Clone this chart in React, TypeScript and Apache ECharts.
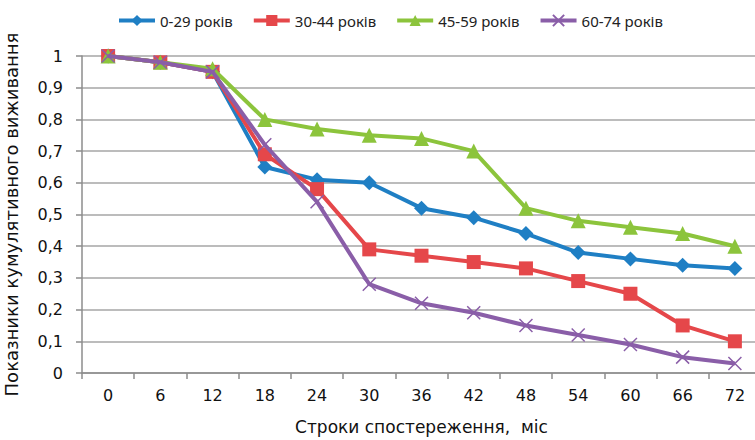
import React, { useEffect, useRef } from "react";
import * as echarts from "echarts";

const categories = ["0", "6", "12", "18", "24", "30", "36", "42", "48", "54", "60", "66", "72"];
const seriesNames = ["0-29 років", "30-44 років", "45-59 років", "60-74 років"];
const age0_29 = [1, 0.98, 0.95, 0.65, 0.61, 0.6, 0.52, 0.49, 0.44, 0.38, 0.36, 0.34, 0.33];
const age30_44 = [1, 0.98, 0.95, 0.69, 0.58, 0.39, 0.37, 0.35, 0.33, 0.29, 0.25, 0.15, 0.1];
const age45_59 = [1, 0.98, 0.96, 0.8, 0.77, 0.75, 0.74, 0.7, 0.52, 0.48, 0.46, 0.44, 0.4];
const age60_74 = [1, 0.98, 0.95, 0.72, 0.54, 0.28, 0.22, 0.19, 0.15, 0.12, 0.09, 0.05, 0.03];
const colors = ["#1f7fc4", "#e5474a", "#8cc43c", "#8a5ea8"];
const xTitle = "Строки спостереження,  міс";
const yTitle = "Показники кумулятивного виживання";

export default function App() {
  const ref = useRef<HTMLDivElement>(null);
  useEffect(() => {
    if (!ref.current) return;
    const chart = echarts.init(ref.current, null, { renderer: "svg" });
    const datas = [age0_29, age30_44, age45_59, age60_74];
    const symbols = ["diamond", "rect", "triangle", "path://M0,0L10,10M10,0L0,10"];
    const sizes = [15, 14, 15, 13];
    chart.setOption({
      animation: false,
      color: colors,
      legend: {
        top: 8,
        left: 112,
        itemWidth: 36,
        itemHeight: 14,
        itemGap: 19,
        lineStyle: { width: 4 },
        textStyle: { fontFamily: "Noto Sans", fontSize: 15, color: "#222" },
        data: seriesNames,
      },
      grid: {
        left: 82,
        top: 56,
        width: 679,
        height: 317,
        containLabel: false,
        outerBoundsMode: "none",
      },
      xAxis: {
        type: "category",
        data: categories,
        boundaryGap: true,
        axisLine: { lineStyle: { color: "#8c8c8c", width: 1.5 } },
        axisTick: { show: true, length: 6, lineStyle: { color: "#8c8c8c", width: 1.5 } },
        axisLabel: { color: "#111", fontFamily: "DejaVu Sans", fontSize: 16, margin: 14 },
        name: xTitle,
        nameLocation: "middle",
        nameGap: 45,
        nameTextStyle: { color: "#111", fontFamily: "DejaVu Sans", fontSize: 17 },
      },
      yAxis: {
        type: "value",
        min: 0,
        max: 1,
        interval: 0.1,
        axisLine: { show: true, lineStyle: { color: "#8c8c8c", width: 1.5 } },
        axisTick: { show: true, length: 6, lineStyle: { color: "#8c8c8c", width: 1.5 } },
        axisLabel: {
          color: "#111",
          fontFamily: "DejaVu Sans",
          fontSize: 16,
          margin: 19,
          formatter: (v: number) => String(Math.round(v * 10) / 10).replace(".", ","),
        },
        splitLine: { lineStyle: { color: "#a6a6a6", width: 1.5 } },
        name: yTitle,
        nameLocation: "middle",
        nameGap: 62,
        nameTextStyle: { color: "#111", fontFamily: "DejaVu Sans", fontSize: 18 },
      },
      series: datas.map((d, i) => ({
        name: seriesNames[i],
        type: "line",
        data: d,
        symbol: symbols[i],
        symbolSize: sizes[i],
        showSymbol: true,
        lineStyle: { width: 4, color: colors[i] },
        itemStyle:
          i === 3
            ? { color: colors[i], borderColor: colors[i], borderWidth: 1.5 }
            : { color: colors[i], borderWidth: 0 },
        z: 2 + i,
      })),
    });
    return () => chart.dispose();
  }, []);
  return (
    <div
      ref={ref}
      style={{ position: "absolute", left: 0, top: 0, width: 755, height: 440, background: "#fff" }}
    />
  );
}
